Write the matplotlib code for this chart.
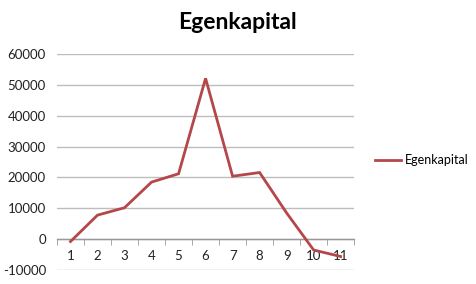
import matplotlib
matplotlib.use("Agg")
import matplotlib.pyplot as plt
import numpy as np

plt.rcParams['font.family'] = ['Lato', 'DejaVu Sans']

periods = [1, 2, 3, 4, 5, 6, 7, 8, 9, 10, 11]
egenkapital = [-750, 7800, 10200, 18500, 21200, 52100, 20400, 21600, 8500, -3500, -5600]
yticks = [-10000, 0, 10000, 20000, 30000, 40000, 50000, 60000]

LINE = '#B3474A'
GRID = '#BDBDBD'

fig = plt.figure(figsize=(4.77, 2.84), dpi=100)
ax = fig.add_axes([0.1195, 0.049, 0.623, 0.761])

ax.plot(periods, egenkapital, color=LINE, linewidth=2.0, label='Egenkapital',
        solid_joinstyle='miter', zorder=3)

ax.set_xlim(0.5, 11.5)
ax.set_ylim(-10000, 60000)
ax.set_yticks(yticks)
ax.set_yticklabels([str(v) for v in yticks])
ax.yaxis.grid(True, color=GRID, linewidth=1.0)
ax.set_axisbelow(True)

for s in ['top', 'right', 'left']:
    ax.spines[s].set_visible(False)
ax.spines['bottom'].set_position(('data', 0))
ax.spines['bottom'].set_color('#999999')
ax.spines['bottom'].set_linewidth(1.0)

ax.set_xticks(periods)
ax.set_xticklabels([str(p) for p in periods])
ax.set_xticks(np.arange(0.5, 12, 1), minor=True)
ax.tick_params(axis='x', which='major', length=0, pad=8, labelsize=9.5, colors='#222222')
ax.tick_params(axis='x', which='minor', length=4, direction='out', color='#999999')
ax.tick_params(axis='y', length=0, pad=8, labelsize=9.5, colors='#222222')

fig.text(0.498, 0.92, 'Egenkapital', ha='center', va='center',
         fontsize=16.5, fontweight='bold', color='#000000')

leg = fig.legend(loc='center left', bbox_to_anchor=(0.775, 0.435), frameon=False,
                 fontsize=9, handlelength=2.1, handletextpad=0.3, borderaxespad=0)

fig.savefig('out.png', dpi=100)
